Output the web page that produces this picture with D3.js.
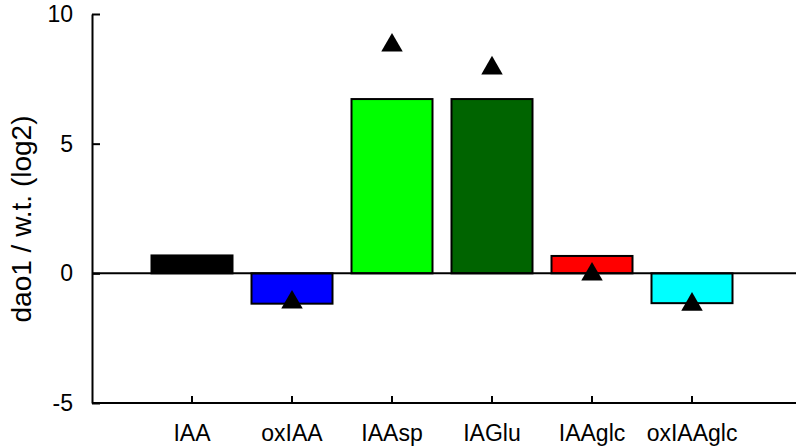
<!DOCTYPE html>
<html>
<head>
<meta charset="utf-8">
<script src="https://cdn.jsdelivr.net/npm/d3@7"></script>
<style>
  body { margin: 0; background: #fff; }
  svg text { font-family: "Liberation Sans", Arial, Helvetica, sans-serif; fill: #000; }
</style>
</head>
<body>
<div id="chart"></div>
<script>
// data
let categories = ["IAA", "oxIAA", "IAAsp", "IAGlu", "IAAglc", "oxIAAglc"];
let barValues = [0.69, -1.17, 6.72, 6.72, 0.67, -1.15];
let triangleValues = [null, -1.12, 8.79, 7.91, -0.04, -1.2];
let barColors = ["#000000", "#0000ff", "#00ff00", "#006400", "#ff0000", "#00ffff"];
let yTicks = [-5, 0, 5, 10];

let width = 796;
let height = 448;
let plot = ({left: 92, right: 796, top: 14, bottom: 403});

let svg = d3.select("#chart")
  .append("svg")
  .attr("width", width)
  .attr("height", height);

let y = d3.scaleLinear().domain([-5, 10]).range([plot.bottom, plot.top]);
let x = d3.scaleBand().domain(categories).range([142, 742]).paddingInner(0.19).paddingOuter(0.095);

// bars
svg.append("g")
  .selectAll("rect")
  .data(categories)
  .enter()
  .append("rect")
    .attr("x", d => x(d))
    .attr("width", x.bandwidth())
    .attr("y", (d, i) => y(Math.max(0, barValues[i])))
    .attr("height", (d, i) => Math.abs(y(barValues[i]) - y(0)))
    .attr("fill", (d, i) => barColors[i])
    .attr("stroke", "#000")
    .attr("stroke-width", 2);

// zero line
svg.append("line")
  .attr("x1", plot.left).attr("x2", plot.right)
  .attr("y1", y(0)).attr("y2", y(0))
  .attr("stroke", "#000").attr("stroke-width", 2);

// triangles
let tri = d3.symbol().type(d3.symbolTriangle).size(200);
svg.append("g")
  .selectAll("path")
  .data(categories.filter((d, i) => triangleValues[i] !== null))
  .enter()
  .append("path")
    .attr("d", tri)
    .attr("transform", d => "translate(" + (x(d) + x.bandwidth() / 2) + "," + y(triangleValues[categories.indexOf(d)]) + ")")
    .attr("fill", "#000");

// y axis
let yAxis = svg.append("g")
  .attr("transform", "translate(" + plot.left + ",0)")
  .call(d3.axisLeft(y).tickValues(yTicks).tickFormat(d => String(d)).tickSize(-8).tickPadding(19).tickSizeOuter(0));
yAxis.select(".domain").attr("stroke-width", 2);
yAxis.selectAll(".tick line").attr("stroke-width", 2);
yAxis.selectAll(".tick text").attr("font-size", "23px");

// x axis
svg.append("line")
  .attr("x1", plot.left).attr("x2", plot.right)
  .attr("y1", plot.bottom).attr("y2", plot.bottom)
  .attr("stroke", "#000").attr("stroke-width", 2);
let xAxis = svg.append("g")
  .attr("transform", "translate(0," + plot.bottom + ")")
  .call(d3.axisBottom(x).tickSize(-7).tickPadding(22).tickSizeOuter(0));
xAxis.select(".domain").remove();
xAxis.selectAll(".tick line").attr("stroke-width", 2);
xAxis.selectAll(".tick text").attr("font-size", "23px");

// y label
svg.append("text")
  .attr("transform", "rotate(-90)")
  .attr("x", -219)
  .attr("y", 31)
  .attr("font-size", "28px")
  .style("text-anchor", "middle")
  .text("dao1 / w.t. (log2)");
</script>
</body>
</html>
